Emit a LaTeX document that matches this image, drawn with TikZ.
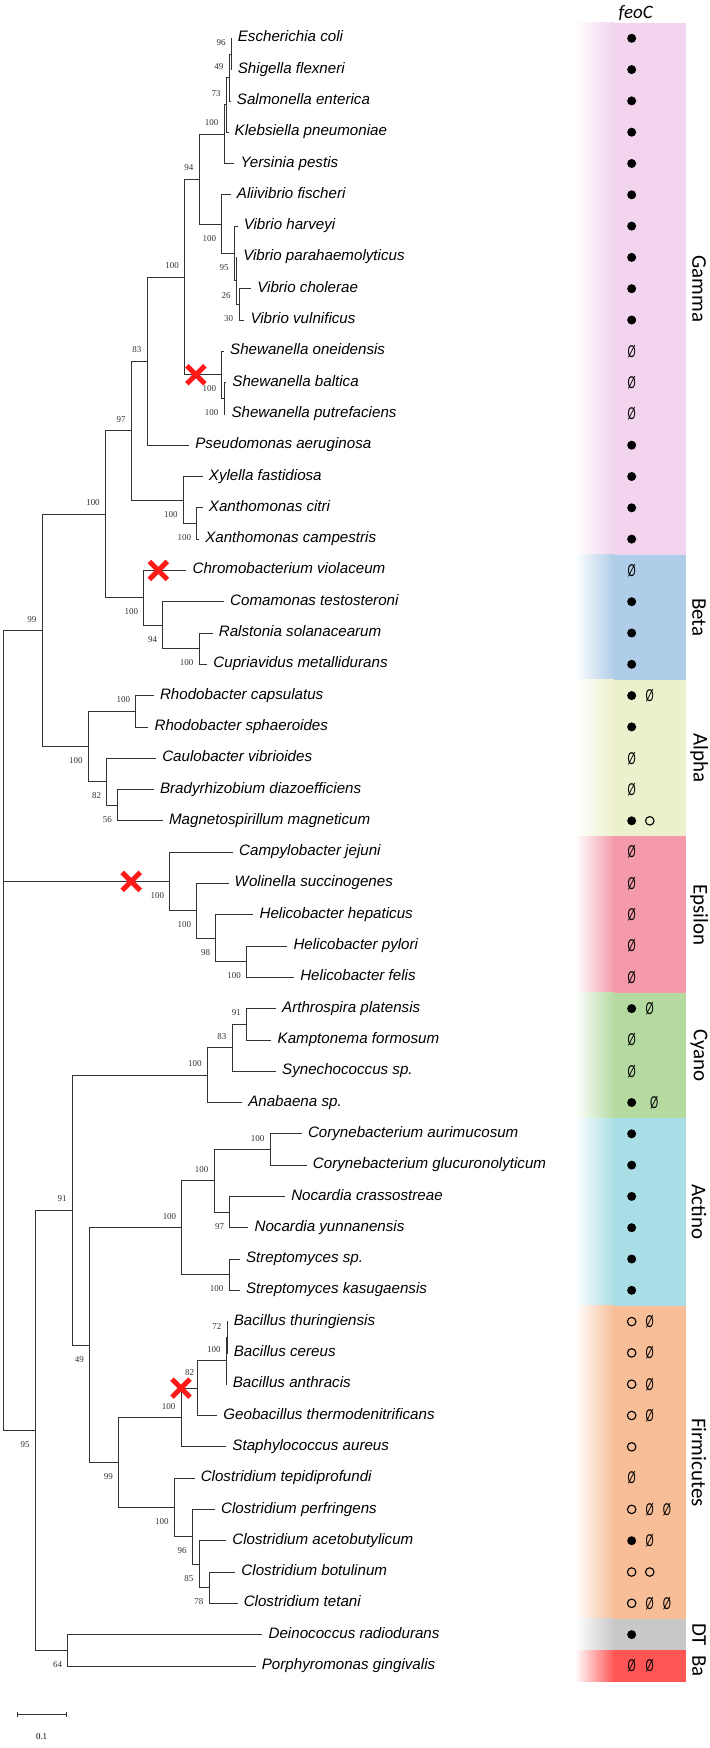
\documentclass[tikz,border=0pt]{standalone}
\usepackage{fontspec}
\setmainfont{Liberation Sans}
\newfontfamily\grpfont{Carlito}
\newfontfamily\bsfont{Liberation Serif}
\usetikzlibrary{arrows.meta, shapes.misc}
\definecolor{brC}{HTML}{333333}
\definecolor{xRed}{HTML}{FF1A1A}
\definecolor{cGamma}{HTML}{F2D4EE}
\definecolor{cBeta}{HTML}{AFCDE8}
\definecolor{cAlpha}{HTML}{EDF0CD}
\definecolor{cEps}{HTML}{F49AAA}
\definecolor{cCyano}{HTML}{B4DAA0}
\definecolor{cActino}{HTML}{AADEE6}
\definecolor{cFirm}{HTML}{F7BE98}
\definecolor{cDT}{HTML}{C8C8C8}
\definecolor{cBa}{HTML}{FF5555}
\newcommand\nulmark{\scalebox{0.62}[1]{\fontsize{17}{18}\selectfont Ø}}
\tikzset{
  br/.style={draw=brC, line width=0.8bp},
  leaf/.style={anchor=west, inner xsep=6bp, inner ysep=0pt,
    font=\fontsize{15.2}{18}\selectfont\itshape, text height=0.72em, text depth=0pt},
  bs/.style={inner sep=0pt, font=\bsfont\fontsize{9}{10}\selectfont, text=brC},
  bsa/.style={bs, anchor=south east, xshift=-5.5bp, yshift=8bp},
  bsb/.style={bs, anchor=north east, xshift=-5.5bp, yshift=-11bp},
  redx/.style={cross out, draw=xRed, line width=5bp, minimum size=13bp, inner sep=0pt},
  grp/.style={rotate=-90, inner sep=0pt, font=\grpfont\fontsize{21}{24}\selectfont},
  mkf/.style={circle, fill=black, minimum size=9bp, inner sep=0pt, node contents={}},
  mko/.style={circle, draw=black, line width=1.1bp, minimum size=8.5bp, inner sep=0pt, node contents={}},
  mke/.style={inner sep=0pt, node contents={\nulmark}},
  mkn/.style={inner sep=0pt, node contents={}},
}
\begin{document}
\begin{tikzpicture}[x=0.452489bp, y=-31.3bp]
\useasboundingbox (0,-0.2236) rectangle (1569.1,55.623);

% =====================================================================
% COLOUR STRIP (group bands, white fade on the left)
% =====================================================================
\foreach \c/\t/\b in {cGamma/0.5/17.5, cBeta/17.5/21.5, cAlpha/21.5/26.5,
  cEps/26.5/31.5, cCyano/31.5/35.5, cActino/35.5/41.5, cFirm/41.5/51.5,
  cDT/51.5/52.5, cBa/52.5/53.5}{
  \shade[left color=white, right color=\c] (1270,\t) rectangle (1358,\b);
  \fill[\c] (1357,\t) rectangle (1515,\b);
}
\node[font=\grpfont\itshape\fontsize{19}{21}\selectfont, inner sep=0pt] (feoC) at (1405,0.2) {feoC};

\node[grp] (gGamma) at (1545,9) {Gamma};
\node[grp] (gBeta) at (1545,19.5) {Beta};
\node[grp] (gAlpha) at (1545,24) {Alpha};
\node[grp] (gEps) at (1545,29) {Epsilon};
\node[grp] (gCyano) at (1545,33.5) {Cyano};
\node[grp] (gActino) at (1545,38.5) {Actino};
\node[grp] (gFirm) at (1545,46.5) {Firmicutes};
\node[grp] (gDT) at (1545,52) {DT};
\node[grp] (gBa) at (1545,53) {Ba};

% feoC marks: f = present, o = open, e = empty set, n = none
\foreach \r/\ma/\mb/\mc in {1/f/n/n, 2/f/n/n, 3/f/n/n, 4/f/n/n, 5/f/n/n,
  6/f/n/n, 7/f/n/n, 8/f/n/n, 9/f/n/n, 10/f/n/n, 11/e/n/n, 12/e/n/n,
  13/e/n/n, 14/f/n/n, 15/f/n/n, 16/f/n/n, 17/f/n/n, 18/e/n/n, 19/f/n/n,
  20/f/n/n, 21/f/n/n, 22/f/e/n, 23/f/n/n, 24/e/n/n, 25/e/n/n, 26/f/o/n,
  27/e/n/n, 28/e/n/n, 29/e/n/n, 30/e/n/n, 31/e/n/n, 32/f/e/n, 33/e/n/n,
  34/e/n/n, 35/f/n/n, 36/f/n/n, 37/f/n/n, 38/f/n/n, 39/f/n/n, 40/f/n/n,
  41/f/n/n, 42/o/e/n, 43/o/e/n, 44/o/e/n, 45/o/e/n, 46/o/n/n, 47/e/n/n,
  48/o/e/e, 49/f/e/n, 50/o/o/n, 51/o/e/e, 52/f/n/n, 53/e/e/n}{
  \node[name=m\r a, at={(1396,\r)}, mk\ma];
  \node[name=m\r b, at={(1436,\r)}, mk\mb];
  \node[name=m\r c, at={(1474,\r)}, mk\mc];
}
\node[name=m35x, at={(1446,35)}, mke];

% =====================================================================
% LEAVES (tip x, row)
% =====================================================================
% ── Gamma ────────────────────────────────────────────────────────────
\node[leaf] (L1) at (512,1) {Escherichia coli};
\node[leaf] (L2) at (512,2) {Shigella flexneri};
\node[leaf] (L3) at (510,3) {Salmonella enterica};
\node[leaf] (L4) at (505,4) {Klebsiella pneumoniae};
\node[leaf] (L5) at (518,5) {Yersinia pestis};
\node[leaf] (L6) at (510,6) {Aliivibrio fischeri};
\node[leaf] (L7) at (525,7) {Vibrio harveyi};
\node[leaf] (L8) at (524,8) {Vibrio parahaemolyticus};
\node[leaf] (L9) at (555,9) {Vibrio cholerae};
\node[leaf] (L10) at (540,10) {Vibrio vulnificus};
\node[leaf] (L11) at (495,11) {Shewanella oneidensis};
\node[leaf] (L12) at (500,12) {Shewanella baltica};
\node[leaf] (L13) at (498,13) {Shewanella putrefaciens};
\node[leaf] (L14) at (418,14) {Pseudomonas aeruginosa};
\node[leaf] (L15) at (448,15) {Xylella fastidiosa};
\node[leaf] (L16) at (448,16) {Xanthomonas citri};
\node[leaf] (L17) at (440,17) {Xanthomonas campestris};
% ── Beta ─────────────────────────────────────────────────────────────
\node[leaf] (L18) at (412,18) {Chromobacterium violaceum};
\node[leaf] (L19) at (495,19) {Comamonas testosteroni};
\node[leaf] (L20) at (470,20) {Ralstonia solanacearum};
\node[leaf] (L21) at (458,21) {Cupriavidus metallidurans};
% ── Alpha ────────────────────────────────────────────────────────────
\node[leaf] (L22) at (340,22) {Rhodobacter capsulatus};
\node[leaf] (L23) at (328,23) {Rhodobacter sphaeroides};
\node[leaf] (L24) at (345,24) {Caulobacter vibrioides};
\node[leaf] (L25) at (340,25) {Bradyrhizobium diazoefficiens};
\node[leaf] (L26) at (360,26) {Magnetospirillum magneticum};
% ── Epsilon ──────────────────────────────────────────────────────────
\node[leaf] (L27) at (515,27) {Campylobacter jejuni};
\node[leaf] (L28) at (505,28) {Wolinella succinogenes};
\node[leaf] (L29) at (560,29) {Helicobacter hepaticus};
\node[leaf] (L30) at (635,30) {Helicobacter pylori};
\node[leaf] (L31) at (650,31) {Helicobacter felis};
% ── Cyano ────────────────────────────────────────────────────────────
\node[leaf] (L32) at (610,32) {Arthrospira platensis};
\node[leaf] (L33) at (600,33) {Kamptonema formosum};
\node[leaf] (L34) at (610,34) {Synechococcus sp.};
\node[leaf] (L35) at (535,35) {Anabaena sp.};
% ── Actino ───────────────────────────────────────────────────────────
\node[leaf] (L36) at (667,36) {Corynebacterium aurimucosum};
\node[leaf] (L37) at (678,37) {Corynebacterium glucuronolyticum};
\node[leaf] (L38) at (630,38) {Nocardia crassostreae};
\node[leaf] (L39) at (549,39) {Nocardia yunnanensis};
\node[leaf] (L40) at (530,40) {Streptomyces sp.};
\node[leaf] (L41) at (530,41) {Streptomyces kasugaensis};
% ── Firmicutes ───────────────────────────────────────────────────────
\node[leaf] (L42) at (503,42) {Bacillus thuringiensis};
\node[leaf] (L43) at (503,43) {Bacillus cereus};
\node[leaf] (L44) at (501,44) {Bacillus anthracis};
\node[leaf] (L45) at (480,45) {Geobacillus thermodenitrificans};
\node[leaf] (L46) at (500,46) {Staphylococcus aureus};
\node[leaf] (L47) at (430,47) {Clostridium tepidiprofundi};
\node[leaf] (L48) at (475,48) {Clostridium perfringens};
\node[leaf] (L49) at (500,49) {Clostridium acetobutylicum};
\node[leaf] (L50) at (520,50) {Clostridium botulinum};
\node[leaf] (L51) at (525,51) {Clostridium tetani};
% ── DT / Ba ──────────────────────────────────────────────────────────
\node[leaf] (L52) at (580,52) {Deinococcus radiodurans};
\node[leaf] (L53) at (565,53) {Porphyromonas gingivalis};

% =====================================================================
% INTERNAL NODES
% =====================================================================
\coordinate (n96) at (511,1.5);
\coordinate (n49g) at (506,2.25);
\coordinate (n73) at (500,3.125);
\coordinate (nEnt) at (495,4.0625);
\coordinate (nV30) at (528,9.5);
\coordinate (nV26) at (522,8.75);
\coordinate (nV95) at (518,7.875);
\coordinate (nVib) at (490,6.9375);
\coordinate (n94) at (440,5.5);
\coordinate (nSh) at (495,12.5);
\coordinate (nShew) at (490,11.75);
\coordinate (nG100) at (408,8.625);
\coordinate (n83) at (325,11.3125);
\coordinate (nXc) at (435,16.5);
\coordinate (nXan) at (405,15.75);
\coordinate (n97) at (290,13.53125);
\coordinate (nB3) at (440,20.5);
\coordinate (nB2) at (360,19.75);
\coordinate (nBeta) at (318,18.875);
\coordinate (nGB) at (233,16.203125);
\coordinate (nRh) at (300,22.5);
\coordinate (nA3) at (260,25.5);
\coordinate (nA2) at (236,24.75);
\coordinate (nAlpha) at (195,23.625);
\coordinate (n99) at (93,19.9140625);
\coordinate (nE4) at (545,30.5);
\coordinate (nE3) at (477,29.75);
\coordinate (nE2) at (435,28.875);
\coordinate (nEps) at (375,27.9375);
\coordinate (nC3) at (545,32.5);
\coordinate (nC2) at (513,33.25);
\coordinate (nCy) at (458,34.125);
\coordinate (nCor) at (597,36.5);
\coordinate (nNoc) at (508,38.5);
\coordinate (nAc2) at (473,37.5);
\coordinate (nStr) at (506,40.5);
\coordinate (nAct) at (402,39);
\coordinate (nBa72) at (502,42.5);
\coordinate (nBa100) at (500,43.25);
\coordinate (nBa82) at (437,44.125);
\coordinate (nBac) at (400,45.0625);
\coordinate (nCl78) at (462,50.5);
\coordinate (nCl85) at (440,49.75);
\coordinate (nCl96) at (425,48.875);
\coordinate (nClos) at (385,47.9375);
\coordinate (nFirm) at (262,46.5);
\coordinate (nAF) at (198,42.75);
\coordinate (n91) at (160,38.4375);
\coordinate (nDB) at (150,52.5);
\coordinate (n95) at (78,45.46875);
\coordinate (root) at (8,27.9375);

% =====================================================================
% BRANCHES (parent |- child)
% =====================================================================
\draw[br] (root) |- (n99);
\draw[br] (root) |- (nEps);
\draw[br] (root) |- (n95);
% Gamma
\draw[br] (n99) |- (nGB);      \draw[br] (n99) |- (nAlpha);
\draw[br] (nGB) |- (n97);      \draw[br] (nGB) |- (nBeta);
\draw[br] (n97) |- (n83);      \draw[br] (n97) |- (nXan);
\draw[br] (n83) |- (nG100);    \draw[br] (n83) |- (L14.west);
\draw[br] (nG100) |- (n94);    \draw[br] (nG100) |- (nShew);
\draw[br] (n94) |- (nEnt);     \draw[br] (n94) |- (nVib);
\draw[br] (nEnt) |- (n73);     \draw[br] (nEnt) |- (L5.west);
\draw[br] (n73) |- (n49g);     \draw[br] (n73) |- (L4.west);
\draw[br] (n49g) |- (n96);     \draw[br] (n49g) |- (L3.west);
\draw[br] (n96) |- (L1.west);  \draw[br] (n96) |- (L2.west);
\draw[br] (nVib) |- (L6.west); \draw[br] (nVib) |- (nV95);
\draw[br] (nV95) |- (L7.west); \draw[br] (nV95) |- (nV26);
\draw[br] (nV26) |- (L8.west); \draw[br] (nV26) |- (nV30);
\draw[br] (nV30) |- (L9.west); \draw[br] (nV30) |- (L10.west);
\draw[br] (nShew) |- (L11.west); \draw[br] (nShew) |- (nSh);
\draw[br] (nSh) |- (L12.west); \draw[br] (nSh) |- (L13.west);
\draw[br] (nXan) |- (L15.west); \draw[br] (nXan) |- (nXc);
\draw[br] (nXc) |- (L16.west); \draw[br] (nXc) |- (L17.west);
% Beta
\draw[br] (nBeta) |- (L18.west); \draw[br] (nBeta) |- (nB2);
\draw[br] (nB2) |- (L19.west); \draw[br] (nB2) |- (nB3);
\draw[br] (nB3) |- (L20.west); \draw[br] (nB3) |- (L21.west);
% Alpha
\draw[br] (nAlpha) |- (nRh);   \draw[br] (nAlpha) |- (nA2);
\draw[br] (nRh) |- (L22.west); \draw[br] (nRh) |- (L23.west);
\draw[br] (nA2) |- (L24.west); \draw[br] (nA2) |- (nA3);
\draw[br] (nA3) |- (L25.west); \draw[br] (nA3) |- (L26.west);
% Epsilon
\draw[br] (nEps) |- (L27.west); \draw[br] (nEps) |- (nE2);
\draw[br] (nE2) |- (L28.west); \draw[br] (nE2) |- (nE3);
\draw[br] (nE3) |- (L29.west); \draw[br] (nE3) |- (nE4);
\draw[br] (nE4) |- (L30.west); \draw[br] (nE4) |- (L31.west);
% lower half
\draw[br] (n95) |- (n91);      \draw[br] (n95) |- (nDB);
\draw[br] (n91) |- (nCy);      \draw[br] (n91) |- (nAF);
\draw[br] (nCy) |- (nC2);      \draw[br] (nCy) |- (L35.west);
\draw[br] (nC2) |- (nC3);      \draw[br] (nC2) |- (L34.west);
\draw[br] (nC3) |- (L32.west); \draw[br] (nC3) |- (L33.west);
\draw[br] (nAF) |- (nAct);     \draw[br] (nAF) |- (nFirm);
\draw[br] (nAct) |- (nAc2);    \draw[br] (nAct) |- (nStr);
\draw[br] (nAc2) |- (nCor);    \draw[br] (nAc2) |- (nNoc);
\draw[br] (nCor) |- (L36.west); \draw[br] (nCor) |- (L37.west);
\draw[br] (nNoc) |- (L38.west); \draw[br] (nNoc) |- (L39.west);
\draw[br] (nStr) |- (L40.west); \draw[br] (nStr) |- (L41.west);
\draw[br] (nFirm) |- (nBac);   \draw[br] (nFirm) |- (nClos);
\draw[br] (nBac) |- (nBa82);   \draw[br] (nBac) |- (L46.west);
\draw[br] (nBa82) |- (nBa100); \draw[br] (nBa82) |- (L45.west);
\draw[br] (nBa100) |- (nBa72); \draw[br] (nBa100) |- (L44.west);
\draw[br] (nBa72) |- (L42.west); \draw[br] (nBa72) |- (L43.west);
\draw[br] (nClos) |- (L47.west); \draw[br] (nClos) |- (nCl96);
\draw[br] (nCl96) |- (L48.west); \draw[br] (nCl96) |- (nCl85);
\draw[br] (nCl85) |- (L49.west); \draw[br] (nCl85) |- (nCl78);
\draw[br] (nCl78) |- (L50.west); \draw[br] (nCl78) |- (L51.west);
\draw[br] (nDB) |- (L52.west); \draw[br] (nDB) |- (L53.west);

% ── loss events (under the bootstrap values) ─────────────────────────
\node[redx] (xShew) at (433,11.75) {};
\node[redx] (xChrom) at (350,18) {};
\node[redx] (xEps) at (290,27.9375) {};
\node[redx] (xBac) at (400,44.125) {};

% =====================================================================
% BOOTSTRAP VALUES
% =====================================================================
\node[bsa] (b96) at (n96) {96};
\node[bsa] (b49g) at (n49g) {49};
\node[bsa] (b73) at (n73) {73};
\node[bsa] (bEnt) at (nEnt) {100};
\node[bsa] (b94) at (n94) {94};
\node[bsb] (bVib) at (nVib) {100};
\node[bsb] (bV95) at (nV95) {95};
\node[bsb] (bV26) at (nV26) {26};
\node[bsb] (bV30) at (nV30) {30};
\node[bsa] (bG100) at (nG100) {100};
\node[bsb] (bShew) at (nShew) {100};
\node[bsb] (bSh) at (nSh) {100};
\node[bsa] (b83) at (n83) {83};
\node[bsa] (b97) at (n97) {97};
\node[bsb] (bXan) at (nXan) {100};
\node[bsb] (bXc) at (nXc) {100};
\node[bsa] (bGB) at (nGB) {100};
\node[bsb] (bBeta) at (nBeta) {100};
\node[bsb] (bB2) at (nB2) {94};
\node[bsb] (bB3) at (nB3) {100};
\node[bsa] (b99) at (n99) {99};
\node[bsa] (bRh) at (nRh) {100};
\node[bsb] (bAlpha) at (nAlpha) {100};
\node[bsb] (bA2) at (nA2) {82};
\node[bsb] (bA3) at (nA3) {56};
\node[bsb] (bEps) at (nEps) {100};
\node[bsb] (bE2) at (nE2) {100};
\node[bsb] (bE3) at (nE3) {98};
\node[bsb] (bE4) at (nE4) {100};
\node[bsa] (b91) at (n91) {91};
\node[bsa] (bCy) at (nCy) {100};
\node[bsa] (bC2) at (nC2) {83};
\node[bsa] (bC3) at (nC3) {91};
\node[bsb] (bAF) at (nAF) {49};
\node[bsa] (bAct) at (nAct) {100};
\node[bsa] (bAc2) at (nAc2) {100};
\node[bsa] (bCor) at (nCor) {100};
\node[bsb] (bNoc) at (nNoc) {97};
\node[bsb] (bStr) at (nStr) {100};
\node[bsb] (bFirm) at (nFirm) {99};
\node[bsa] (bBac) at (nBac) {100};
\node[bsa, yshift=4bp, xshift=2bp] (bBa82) at (nBa82) {82};
\node[bsa] (bBa100) at (nBa100) {100};
\node[bsa] (bBa72) at (nBa72) {72};
\node[bsb] (bClos) at (nClos) {100};
\node[bsb] (bCl96) at (nCl96) {96};
\node[bsb] (bCl85) at (nCl85) {85};
\node[bsb] (bCl78) at (nCl78) {78};
\node[bsb] (b95) at (n95) {95};
\node[bsb] (bDB) at (nDB) {64};

% ── scale bar ────────────────────────────────────────────────────────
\coordinate (sb1) at (38,54.55);
\coordinate (sb2) at (147,54.55);
\draw[br, {Bar[width=5bp]}-{Bar[width=5bp]}] (sb1) -- (sb2);
\node[bs, text=black] (sbl) at (92,55.25) {0.1};

\end{tikzpicture}
\end{document}
